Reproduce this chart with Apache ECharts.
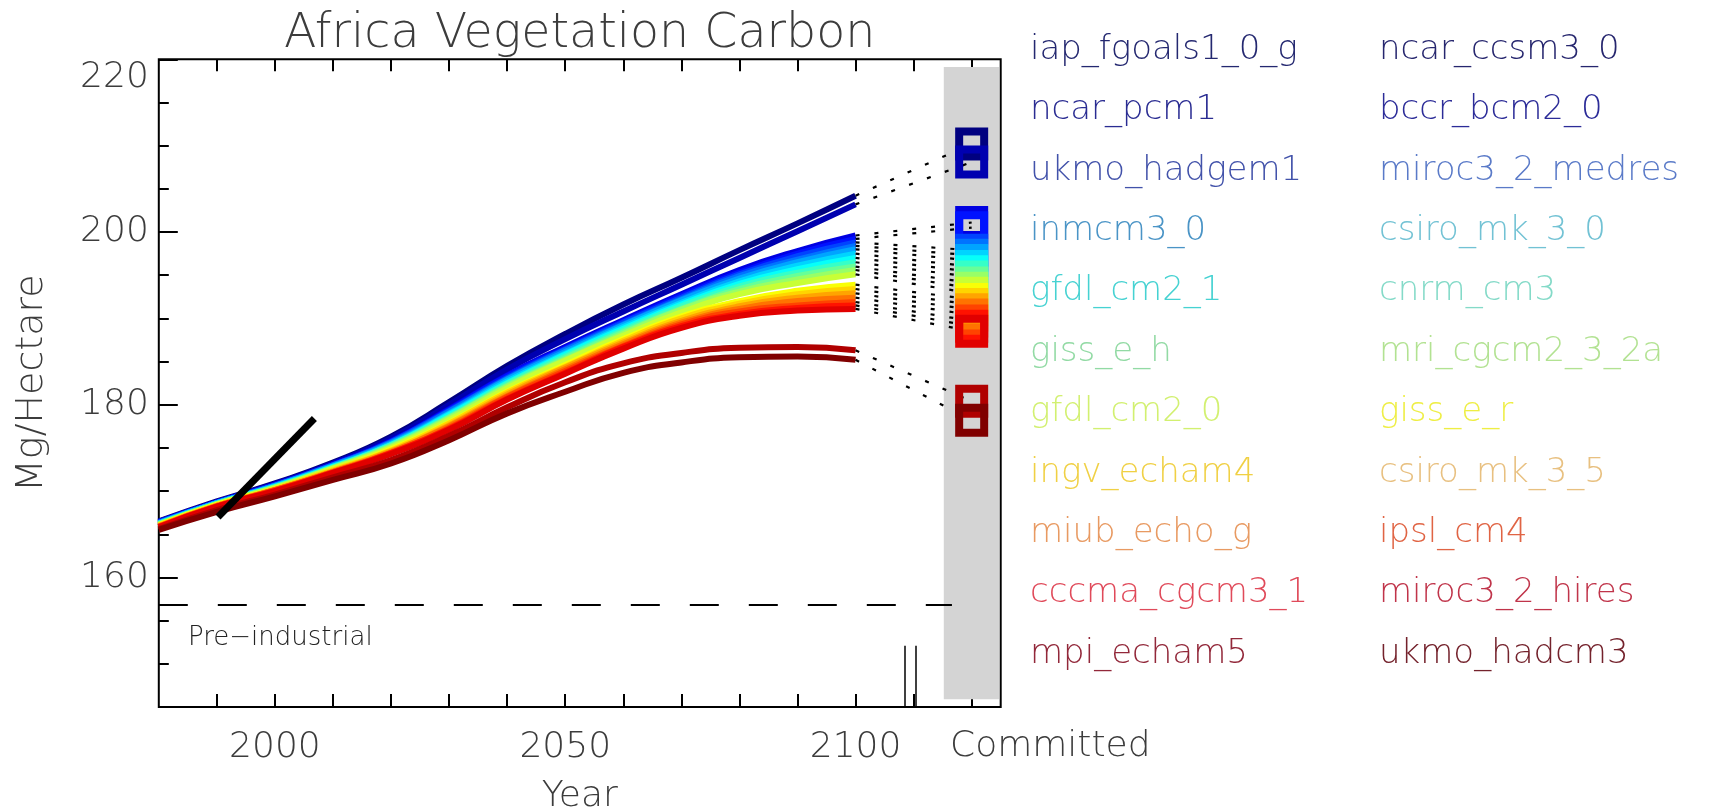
<!DOCTYPE html>
<html>
<head>
<meta charset="utf-8">
<script src="https://cdn.jsdelivr.net/npm/echarts@6/dist/echarts.min.js"></script>
<style>
html,body{margin:0;padding:0;background:#ffffff;}
#chart{width:1729px;height:807px;}
</style>
</head>
<body>
<div id="chart"></div>
<script>
// ---------------- data ----------------
const chartTitle = 'Africa Vegetation Carbon';
const years = [1980, 1990, 2000, 2010, 2020, 2030, 2040, 2050, 2060, 2070, 2080, 2090, 2100];

const modelNames = [
  'iap_fgoals1_0_g', 'ncar_ccsm3_0', 'ncar_pcm1', 'bccr_bcm2_0', 'ukmo_hadgem1', 'miroc3_2_medres',
  'inmcm3_0', 'csiro_mk_3_0', 'gfdl_cm2_1', 'cnrm_cm3', 'giss_e_h', 'mri_cgcm2_3_2a',
  'gfdl_cm2_0', 'giss_e_r', 'ingv_echam4', 'csiro_mk_3_5', 'miub_echo_g', 'ipsl_cm4',
  'cccma_cgcm3_1', 'miroc3_2_hires', 'mpi_echam5', 'ukmo_hadcm3'
];

// Mg/Hectare at each year in `years`
const iap_fgoals1_0_g = [166.5, 168.8, 170.9, 173.3, 176.3, 180.3, 184.5, 188.2, 191.6, 194.7, 197.9, 201.0, 204.2];
const ncar_ccsm3_0    = [166.4, 168.7, 170.8, 173.2, 176.1, 180.0, 184.1, 187.6, 190.8, 193.9, 197.0, 200.1, 203.2];
const ncar_pcm1       = [166.4, 168.7, 170.7, 173.1, 175.8, 179.5, 183.4, 186.7, 189.8, 192.8, 195.6, 197.8, 199.6];
const bccr_bcm2_0     = [166.4, 168.7, 170.7, 173.0, 175.7, 179.4, 183.3, 186.5, 189.6, 192.6, 195.3, 197.5, 199.2];
const ukmo_hadgem1    = [166.3, 168.6, 170.6, 173.0, 175.7, 179.3, 183.1, 186.4, 189.5, 192.4, 195.1, 197.2, 198.8];
const miroc3_2_medres = [166.3, 168.6, 170.6, 173.0, 175.6, 179.2, 183.0, 186.3, 189.3, 192.2, 194.9, 196.8, 198.4];
const inmcm3_0        = [166.3, 168.6, 170.6, 172.9, 175.5, 179.0, 182.9, 186.1, 189.2, 192.1, 194.6, 196.5, 198.0];
const csiro_mk_3_0    = [166.2, 168.6, 170.5, 172.8, 175.4, 178.9, 182.7, 185.9, 189.0, 191.8, 194.3, 196.1, 197.5];
const gfdl_cm2_1      = [166.2, 168.5, 170.5, 172.8, 175.3, 178.8, 182.5, 185.8, 188.8, 191.6, 194.0, 195.7, 197.0];
const cnrm_cm3        = [166.2, 168.5, 170.4, 172.7, 175.3, 178.6, 182.4, 185.6, 188.6, 191.4, 193.7, 195.3, 196.5];
const giss_e_h        = [166.1, 168.5, 170.4, 172.7, 175.2, 178.5, 182.2, 185.4, 188.4, 191.1, 193.4, 194.9, 196.0];
const mri_cgcm2_3_2a  = [166.1, 168.5, 170.4, 172.6, 175.1, 178.4, 182.1, 185.2, 188.2, 191.0, 193.1, 194.5, 195.6];
const gfdl_cm2_0      = [166.1, 168.4, 170.3, 172.6, 175.0, 178.2, 181.9, 185.1, 188.0, 190.7, 192.8, 194.1, 195.1];
const giss_e_r        = [166.0, 168.4, 170.2, 172.4, 174.8, 177.9, 181.5, 184.6, 187.6, 190.2, 192.0, 193.2, 193.9];
const ingv_echam4     = [166.0, 168.3, 170.2, 172.4, 174.7, 177.8, 181.4, 184.4, 187.4, 190.0, 191.7, 192.8, 193.4];
const csiro_mk_3_5    = [165.9, 168.3, 170.1, 172.3, 174.6, 177.6, 181.2, 184.3, 187.2, 189.7, 191.4, 192.4, 192.9];
const miub_echo_g     = [165.9, 168.3, 170.1, 172.2, 174.5, 177.5, 181.0, 184.1, 187.0, 189.5, 191.1, 192.0, 192.4];
const ipsl_cm4        = [165.9, 168.2, 170.1, 172.2, 174.4, 177.3, 180.9, 183.9, 186.8, 189.3, 190.8, 191.5, 191.9];
const cccma_cgcm3_1   = [165.8, 168.2, 170.0, 172.1, 174.4, 177.2, 180.7, 183.7, 186.7, 189.1, 190.5, 191.2, 191.5];
const miroc3_2_hires  = [165.8, 168.2, 170.0, 172.1, 174.3, 177.1, 180.6, 183.6, 186.5, 188.9, 190.3, 190.9, 191.1];
const mpi_echam5      = [165.6, 167.8, 169.6, 171.6, 173.6, 176.4, 179.7, 182.6, 184.8, 186.0, 186.6, 186.7, 186.3];
const ukmo_hadcm3     = [165.5, 167.6, 169.4, 171.3, 173.2, 175.9, 179.0, 181.5, 183.7, 184.9, 185.5, 185.6, 185.2];

const modelValues = [
  iap_fgoals1_0_g, ncar_ccsm3_0, ncar_pcm1, bccr_bcm2_0, ukmo_hadgem1, miroc3_2_medres,
  inmcm3_0, csiro_mk_3_0, gfdl_cm2_1, cnrm_cm3, giss_e_h, mri_cgcm2_3_2a,
  gfdl_cm2_0, giss_e_r, ingv_echam4, csiro_mk_3_5, miub_echo_g, ipsl_cm4,
  cccma_cgcm3_1, miroc3_2_hires, mpi_echam5, ukmo_hadcm3
];

// committed value of each model (same order as modelNames)
const committedValues = [210.2, 208.1, 201.1, 200.5, 197.9, 197.3, 196.7, 196.0, 195.4, 194.8, 194.1,
  193.5, 192.9, 192.2, 191.6, 191.0, 190.4, 189.7, 189.1, 188.5, 180.4, 178.2];
const committedYear = 2120;

// observations
const observedYears = [1990.2, 2006.8];
const observedValues = [167.0, 178.4];

const preIndustrialValue = 156.8;

// axes
const xTickLabels = [2000, 2050, 2100];
const xTickYears = [1990, 2000, 2010, 2020, 2030, 2040, 2050, 2060, 2070, 2080, 2090, 2100, 2110, 2120];
const yTickLabels = [160, 180, 200, 220];
const yMinorTicks = [150, 155, 165, 170, 175, 185, 190, 195, 205, 210, 215];

// ---------------- styles / layout ----------------
const lineColors = ['#000080', '#0000b0', '#0000e1', '#0012ff', '#0043ff', '#0073ff', '#00a4ff', '#00d4ff',
  '#06fff9', '#36ffc8', '#67ff98', '#98ff67', '#c8ff36', '#f9ff06', '#ffd400', '#ffa400', '#ff7300',
  '#ff4300', '#ff1200', '#e10000', '#b00000', '#800000'];
const legendTextColors = ['#242870', '#26266e', '#2a2c92', '#2c2c98', '#4252aa', '#5a7ac8', '#4a94c6', '#72c2d4',
  '#46d2d2', '#84dac8', '#92daa4', '#b2e292', '#d2f070', '#eeee44', '#f0d044', '#e8c080', '#e89a62',
  '#e06444', '#e04a5a', '#c0344a', '#92283a', '#74222c'];
const FONT = 'DejaVu Sans';
const TXT = '#3c3c3c';
const panel = { x0: 2115.2, x1: 2124.7, y0: 145.9, y1: 219.1 };
const breakYears = [2108.5, 2110.3];
const breakTop = 152.1;
const preIndEnd = 2116.6;

const chart = echarts.init(document.getElementById('chart'), null, { renderer: 'canvas' });

const series = [];
series.push({
  type: 'line', name: '_panel', data: [], z: 1, silent: true,
  markArea: {
    silent: true,
    itemStyle: { color: '#d4d4d4', opacity: 1 },
    data: [[{ coord: [panel.x0, panel.y0] }, { coord: [panel.x1, panel.y1] }]]
  }
});
modelNames.forEach((name, k) => {
  series.push({
    type: 'line', name: name, z: 2, smooth: 0.5, showSymbol: false, silent: true,
    data: years.map((yr, i) => [yr, modelValues[k][i]]),
    lineStyle: { width: 6, color: lineColors[k], cap: 'butt' },
    itemStyle: { color: lineColors[k] }
  });
});
modelNames.forEach((name, k) => {
  const vals = modelValues[k];
  series.push({
    type: 'line', name: '_dot' + k, z: 3, showSymbol: false, silent: true,
    data: [[years[years.length - 1], vals[vals.length - 1]], [committedYear, committedValues[k]]],
    lineStyle: { width: 2.2, color: '#000', type: [4, 15] }
  });
});
series.push({
  type: 'line', name: '_ref', data: [], z: 3, silent: true,
  markLine: {
    silent: true, symbol: 'none', label: { show: false },
    lineStyle: { color: '#000', width: 2, type: [29, 30] },
    data: [[{ coord: [1980, preIndustrialValue] }, { coord: [preIndEnd, preIndustrialValue] }]]
  }
});
series.push({
  type: 'line', name: '_break', data: [], z: 3, silent: true,
  markLine: {
    silent: true, symbol: 'none', label: { show: false },
    lineStyle: { color: '#000', width: 1.5, type: 'solid' },
    data: breakYears.map(bx => [{ coord: [bx, 145] }, { coord: [bx, breakTop] }])
  }
});
series.push({
  type: 'scatter', name: '_committed', z: 4, silent: true,
  symbol: 'rect', symbolSize: 25,
  data: committedValues.map((v, k) => ({ value: [committedYear, v], itemStyle: { borderColor: lineColors[k] } })),
  itemStyle: { color: 'rgba(0,0,0,0)', borderWidth: 8, opacity: 1 }
});
series.push({
  type: 'line', name: '_obs', z: 5, showSymbol: false, silent: true,
  data: observedYears.map((yr, i) => [yr, observedValues[i]]),
  lineStyle: { width: 7, color: '#000', cap: 'butt' }
});

function legendCol(parity, left) {
  return {
    orient: 'vertical', left: left, top: 30, padding: 0, itemGap: 20.4,
    itemWidth: 1, itemHeight: 40, icon: 'rect', selectedMode: false,
    itemStyle: { opacity: 0 },
    textStyle: { fontFamily: FONT, fontSize: 34, lineHeight: 40, fontWeight: 300 },
    data: modelNames.map((n, k) => ({ name: n, textStyle: { color: legendTextColors[k] } }))
      .filter((d, k) => k % 2 === parity)
  };
}

const labelFont = { fontFamily: FONT, fontSize: 36, fontWeight: 300, color: TXT };
const yMajorNoTop = yTickLabels.filter(v => v < 220);
const yTopLabel = yTickLabels.filter(v => v >= 220);

const option = {
  animation: false,
  backgroundColor: '#ffffff',
  grid: { left: 158.8, top: 59.3, width: 841.9, height: 647.7, show: true, outerBoundsMode: 'none',
          containLabel: false, borderColor: '#000', borderWidth: 2, backgroundColor: 'rgba(0,0,0,0)' },
  legend: [legendCol(0, 1024), legendCol(1, 1373)],
  xAxis: [{
    type: 'value', min: 1980, max: 2125, position: 'bottom',
    axisLine: { show: false }, splitLine: { show: false },
    axisTick: { show: true, inside: true, length: 13, customValues: xTickYears, lineStyle: { color: '#000', width: 2 } },
    axisLabel: Object.assign({ customValues: xTickLabels, formatter: v => String(v), margin: 23 }, labelFont),
    name: 'Year', nameLocation: 'middle', nameGap: 72,
    nameTextStyle: labelFont
  }, {
    type: 'value', min: 1980, max: 2125, position: 'top',
    axisLine: { show: false }, splitLine: { show: false },
    axisTick: { show: true, inside: true, length: 12, customValues: xTickYears, lineStyle: { color: '#000', width: 2 } },
    axisLabel: { show: false }
  }],
  yAxis: [{
    type: 'value', min: 145, max: 220, position: 'left',
    axisLine: { show: false }, splitLine: { show: false },
    axisTick: { show: true, inside: true, length: 19, customValues: yTickLabels, lineStyle: { color: '#000', width: 2 } },
    axisLabel: Object.assign({ customValues: yMajorNoTop, formatter: v => String(v), margin: 10 }, labelFont),
    name: 'Mg/Hectare', nameLocation: 'middle', nameGap: 108, nameRotate: 90,
    nameTextStyle: { fontFamily: FONT, fontSize: 38, fontWeight: 300, color: TXT }
  }, {
    type: 'value', min: 145, max: 220, position: 'left',
    axisLine: { show: false }, splitLine: { show: false },
    axisTick: { show: true, inside: true, length: 10, customValues: yMinorTicks, lineStyle: { color: '#000', width: 2 } },
    axisLabel: { show: false }
  }, {
    type: 'value', min: 145, max: 220, position: 'left',
    axisLine: { show: false }, splitLine: { show: false },
    axisTick: { show: false },
    axisLabel: Object.assign({ customValues: yTopLabel, formatter: v => String(v), margin: 10, verticalAlign: 'top' }, labelFont)
  }],
  graphic: [
    { type: 'text', x: 579.7, y: 35, silent: true,
      style: { text: chartTitle, fontFamily: FONT, fontSize: 47.5, fontWeight: 300, fill: TXT, align: 'center', verticalAlign: 'middle' } },
    { type: 'text', x: 950, y: 747, silent: true,
      style: { text: 'Committed', fontFamily: FONT, fontSize: 36, fontWeight: 300, fill: TXT, align: 'left', verticalAlign: 'middle' } },
    { type: 'text', x: 188, y: 638, silent: true,
      style: { text: 'Pre\u2212industrial', fontFamily: FONT, fontSize: 26, fontWeight: 300, fill: '#222', align: 'left', verticalAlign: 'middle' } }
  ],
  series: series
};
chart.setOption(option);
</script>
</body>
</html>
